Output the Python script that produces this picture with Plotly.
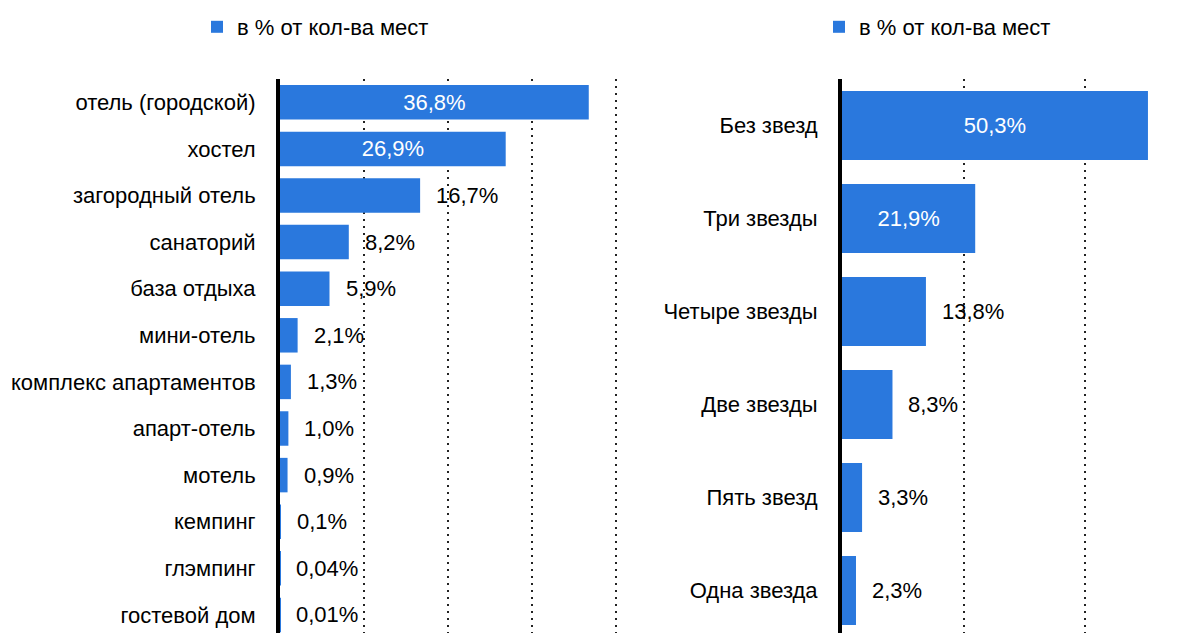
import plotly.graph_objects as go

# ---- data ----
left_categories = ["отель (городской)", "хостел", "загородный отель", "санаторий", "база отдыха",
                   "мини-отель", "комплекс апартаментов", "апарт-отель", "мотель", "кемпинг",
                   "глэмпинг", "гостевой дом"]
left_values = [36.8, 26.9, 16.7, 8.2, 5.9, 2.1, 1.3, 1.0, 0.9, 0.1, 0.04, 0.01]

right_categories = ["Без звезд", "Три звезды", "Четыре звезды", "Две звезды", "Пять звезд", "Одна звезда"]
right_values = [50.3, 21.9, 13.8, 8.3, 3.3, 2.3]

series_name = "в % от кол-ва мест"

# ---- style ----
BLUE = "#2A78DD"
FONT = "Liberation Sans, Arial, sans-serif"
FS = 22
OFF = 8                      # default page (body) margin of the html page
PAGE_W, PAGE_H = 1200, 633
W, H = PAGE_W - OFF, PAGE_H - OFF
TOP = 79 - OFF


def fx(px):  # page pixel -> figure pixel
    return px - OFF


def fmt(v):
    s = f"{v:.2f}" if v < 0.1 else f"{v:.1f}"
    return s.replace(".", ",") + "%"


fig = go.Figure()

for cats, vals, xa, ya, lg in [(left_categories, left_values, "x", "y", "legend"),
                               (right_categories, right_values, "x2", "y2", "legend2")]:
    inside = [v > 20 for v in vals]
    fig.add_trace(go.Bar(
        x=vals, y=cats, orientation="h", name=series_name,
        marker=dict(color=BLUE, line=dict(width=0)),
        text=[fmt(v) if ins else "" for v, ins in zip(vals, inside)],
        textposition="inside", insidetextanchor="middle",
        textfont=dict(color="white", size=FS, family=FONT),
        xaxis=xa, yaxis=ya, legend=lg, showlegend=True, hoverinfo="skip",
    ))
    for c, v, ins in zip(cats, vals, inside):
        if not ins:
            fig.add_annotation(x=v, y=c, xref=xa, yref=ya, text=fmt(v), showarrow=False,
                               xanchor="left", yanchor="middle", xshift=14,
                               font=dict(color="black", size=FS, family=FONT))

plot_h = H - TOP
grid = dict(showgrid=True, gridcolor="#222222", gridwidth=2, griddash="2px,5px",
            zeroline=False, showticklabels=False, showline=False, ticks="", automargin=False)
ycommon = dict(type="category", showline=True, linecolor="black", linewidth=4,
               ticks="", showgrid=False, ticklabelstandoff=16, automargin=False,
               tickfont=dict(size=FS, family=FONT, color="black"))

fig.update_layout(
    width=W, height=H,
    margin=dict(l=0, r=0, t=TOP, b=0, autoexpand=False),
    paper_bgcolor="white", plot_bgcolor="white",
    font=dict(family=FONT, size=FS, color="black"),
    bargap=0.26, hovermode=False,
    xaxis=dict(domain=[fx(280) / W, fx(624) / W], range=[0, 41], dtick=10, **grid),
    yaxis=dict(range=[-0.5 + plot_h / 46.6, -0.5], categoryarray=left_categories, anchor="x", **ycommon),
    xaxis2=dict(domain=[fx(842) / W, fx(1196) / W], range=[0, 58.2], dtick=20, anchor="y2", **grid),
    yaxis2=dict(range=[-0.5 + plot_h / 93.0, -0.5], categoryarray=right_categories, anchor="x2", **ycommon),
    legend=dict(xref="container", yref="container", x=fx(237 - 40) / W, xanchor="left",
                y=1 - fx(27) / H, yanchor="middle",
                font=dict(size=FS, family=FONT), bgcolor="rgba(0,0,0,0)"),
    legend2=dict(xref="container", yref="container", x=fx(859 - 40) / W, xanchor="left",
                 y=1 - fx(27) / H, yanchor="middle",
                 font=dict(size=FS, family=FONT), bgcolor="rgba(0,0,0,0)"),
)

fig.write_html("out.html")
